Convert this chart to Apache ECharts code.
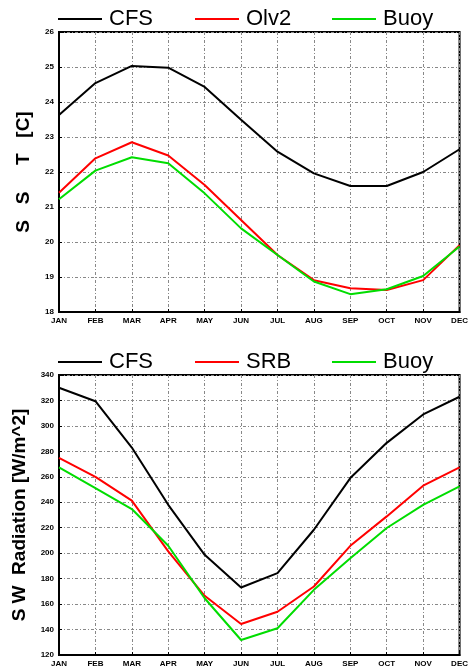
<!DOCTYPE html>
<html>
<head>
<meta charset="utf-8">
<script src="https://cdn.jsdelivr.net/npm/echarts@6/dist/echarts.min.js"></script>
<style>
  html, body { margin: 0; padding: 0; background: #fff; }
  #chart { width: 471px; height: 671px; }
</style>
</head>
<body>
<div id="chart"></div>
<script>
// months on both x axes
var months = ['JAN', 'FEB', 'MAR', 'APR', 'MAY', 'JUN', 'JUL', 'AUG', 'SEP', 'OCT', 'NOV', 'DEC']

// top panel: SST [C]
var sst_cfs  = [23.63, 24.54, 25.03, 24.98, 24.43, 23.49, 22.58, 21.96, 21.60, 21.60, 22.00, 22.65]
var sst_olv2 = [21.41, 22.39, 22.85, 22.47, 21.63, 20.63, 19.63, 18.91, 18.68, 18.63, 18.91, 19.91]
var sst_buoy = [21.22, 22.04, 22.42, 22.25, 21.39, 20.39, 19.63, 18.87, 18.51, 18.65, 19.03, 19.87]

// bottom panel: SW radiation [W/m^2]
var sw_cfs  = [330, 319.4, 283, 238, 198.7, 173, 184.3, 218.4, 259, 286.7, 309, 322.9]
var sw_srb  = [274.9, 260, 241.3, 201.4, 166.5, 144.4, 154, 173.8, 205.8, 228.9, 253, 267.5]
var sw_buoy = [267.5, 251.2, 234.7, 205.8, 164.6, 131.8, 141, 171.2, 196, 219.8, 238, 252.5]

var chart = echarts.init(document.getElementById('chart'), null, { renderer: 'canvas' })

var font = 'Liberation Sans'
var gridLine = { show: true, lineStyle: { color: '#888', width: 1, type: [3, 2, 1, 2] } }

function makeLegend (name, left, top) {
  return {
    data: [name],
    left: left,
    top: top,
    padding: 0,
    icon: 'rect',
    itemWidth: 44,
    itemHeight: 2,
    itemGap: 0,
    textStyle: { fontSize: 22, color: '#000', fontFamily: font, padding: [0, 0, 0, 2] },
    selectedMode: false
  }
}

function makeXAxis (gridIndex) {
  return {
    type: 'category',
    gridIndex: gridIndex,
    boundaryGap: false,
    data: months,
    axisLine: { show: true, lineStyle: { color: '#000', width: 2 } },
    axisTick: { show: true, inside: true, length: 3, lineStyle: { color: '#000' } },
    axisLabel: { fontSize: 8, fontWeight: 'bold', color: '#000', margin: 5, fontFamily: font },
    splitLine: gridLine
  }
}

function makeYAxis (gridIndex, min, max, interval, name) {
  return {
    type: 'value',
    gridIndex: gridIndex,
    min: min,
    max: max,
    interval: interval,
    name: name,
    nameLocation: 'middle',
    nameGap: 26,
    nameTextStyle: { fontSize: 19, fontWeight: 'bold', color: '#000', fontFamily: font },
    axisLine: { show: true, lineStyle: { color: '#000', width: 2 } },
    axisTick: { show: true, inside: true, length: 3, lineStyle: { color: '#000' } },
    axisLabel: { fontSize: 8, fontWeight: 'bold', color: '#000', margin: 5, fontFamily: font },
    splitLine: gridLine
  }
}

function makeLine (name, data, color, idx) {
  return {
    name: name,
    type: 'line',
    xAxisIndex: idx,
    yAxisIndex: idx,
    data: data,
    symbol: 'none',
    lineStyle: { color: color, width: 2 },
    itemStyle: { color: color },
    silent: true
  }
}

var option = {
  animation: false,
  backgroundColor: '#fff',
  legend: [
    makeLegend('CFS', 58, 8),
    makeLegend('Olv2', 195, 8),
    makeLegend('Buoy', 332, 8),
    makeLegend('CFS', 58, 351),
    makeLegend('SRB', 195, 351),
    makeLegend('Buoy', 332, 351)
  ],
  grid: [
    { left: 59, top: 32, width: 404, height: 280, show: true, borderColor: '#000', borderWidth: 2 },
    { left: 59, top: 375, width: 404, height: 280, show: true, borderColor: '#000', borderWidth: 2 }
  ],
  xAxis: [makeXAxis(0), makeXAxis(1)],
  yAxis: [
    makeYAxis(0, 18, 26, 1, 'S   S     T   [C]'),
    makeYAxis(1, 120, 340, 20, 'S W  Radiation [W/m^2]')
  ],
  series: [
    makeLine('CFS', sst_cfs, '#000000', 0),
    makeLine('Olv2', sst_olv2, '#ff0000', 0),
    makeLine('Buoy', sst_buoy, '#00dd00', 0),
    makeLine('CFS', sw_cfs, '#000000', 1),
    makeLine('SRB', sw_srb, '#ff0000', 1),
    makeLine('Buoy', sw_buoy, '#00dd00', 1)
  ]
}

chart.setOption(option)
</script>
</body>
</html>
